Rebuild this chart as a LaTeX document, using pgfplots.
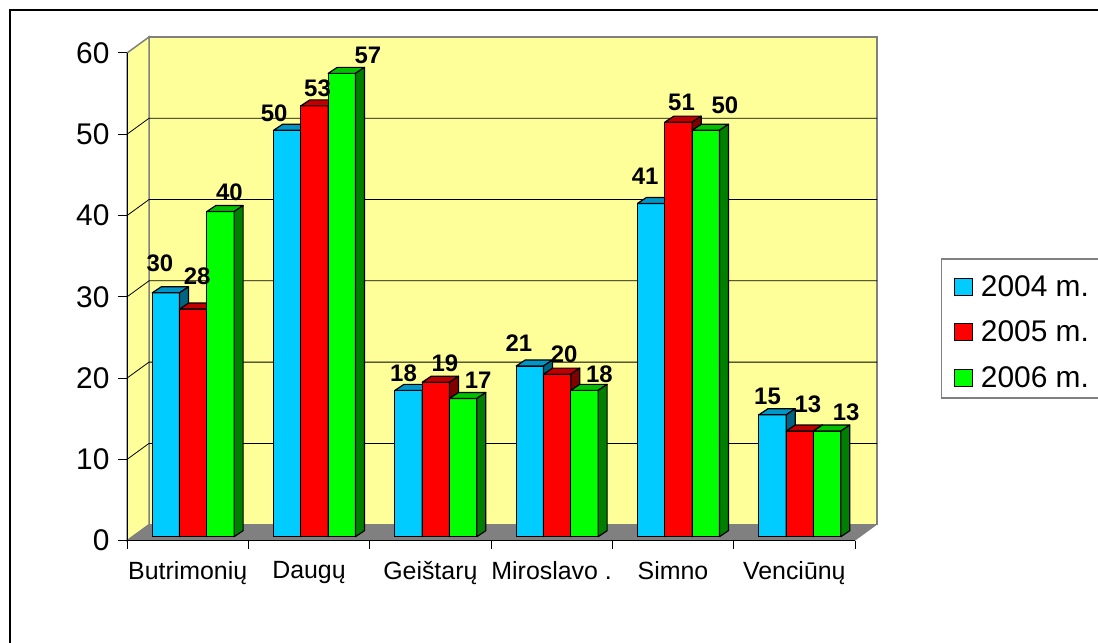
\documentclass[border=0pt]{standalone}
\usepackage{pgfplots}
\pgfplotsset{compat=1.18}
\usepackage{pgfplotstable}
\usepackage{fontspec}
\setmainfont{Liberation Sans}
\definecolor{wallc}{RGB}{255,255,153}
\definecolor{floorc}{RGB}{128,128,128}
\definecolor{edgec}{RGB}{128,128,128}
\definecolor{bfront}{RGB}{0,204,255}
\definecolor{btop}{RGB}{0,150,200}
\definecolor{bside}{RGB}{0,100,130}
\definecolor{rfront}{RGB}{255,0,0}
\definecolor{rtop}{RGB}{192,0,0}
\definecolor{rside}{RGB}{128,0,0}
\definecolor{gfront}{RGB}{0,255,0}
\definecolor{gtop}{RGB}{0,192,0}
\definecolor{gside}{RGB}{0,128,0}
\pgfplotsset{/pgf/number format/assume math mode=true}

% x = category position, y = value, lx/ly = label offset (bp)
\pgfplotstableread{
x y lx ly
0.5 30 -6 21
1.5 50 -13 9
2.5 18 -5 9
3.5 21 -11 14
4.5 41 -6 19
5.5 15 -5 10
}\dataA
\pgfplotstableread{
x y lx ly
0.5 28 4 25
1.5 53 3 9
2.5 19 9 11
3.5 20 7 12
4.5 51 3 12
5.5 13 8 19
}\dataB
\pgfplotstableread{
x y lx ly
0.5 40 9 11
1.5 57 26 10
2.5 17 15 10
3.5 18 15 8
4.5 50 19 17
5.5 13 19 11
}\dataC

% 3D faces of the bars: #1 table, #2 bar shift, #3 top colour, #4 side colour
\newcommand\barfaces[4]{%
  \pgfplotsinvokeforeach{0,...,5}{%
    \pgfplotstablegetelem{##1}{y}\of#1%
    \let\yv\pgfplotsretval
    \pgfmathsetmacro\xa{##1+0.5+(#2)-0.1125}%
    \pgfmathsetmacro\xb{##1+0.5+(#2)+0.1125}%
    \edef\tmp{%
      \noexpand\filldraw[fill=#3, draw=black, line width=1.2bp, line join=round, shift={(5.5bp,4bp)}]
        (axis cs:\xa,\yv) -- (axis cs:\xb,\yv) -- ([shift={(9bp,6bp)}]axis cs:\xb,\yv) -- ([shift={(9bp,6bp)}]axis cs:\xa,\yv) -- cycle;
      \noexpand\filldraw[fill=#4, draw=black, line width=1.2bp, line join=round, shift={(5.5bp,4bp)}]
        (axis cs:\xb,0) -- (axis cs:\xb,\yv) -- ([shift={(9bp,6bp)}]axis cs:\xb,\yv) -- ([shift={(9bp,6bp)}]axis cs:\xb,0) -- cycle;
    }\tmp
  }%
}

\newcommand\lblfont{\fontsize{24}{24}\selectfont\bfseries}
\pgfplotsset{
  barlabels/.style={
    nodes near coords,
    visualization depends on={\thisrow{lx} \as \lx},
    visualization depends on={\thisrow{ly} \as \ly},
    every node near coord/.append style={font=\lblfont, anchor=base, text=black,
      xshift=#1bp+\lx*1bp, yshift=\ly*1bp},
  },
}

\begin{document}
\begin{tikzpicture}[x=1bp,y=1bp]
\useasboundingbox (0,0) rectangle (1098,643);
\draw[line width=2bp] (9.5,-10) -- (9.5,633) -- (1110,633);
\begin{axis}[
  at={(127bp,102.3bp)}, anchor=south west,
  scale only axis, width=728bp, height=487.7bp,
  xmin=0, xmax=6, ymin=0, ymax=60,
  clip=false, axis on top,
  axis x line*=bottom, axis y line*=left,
  axis line style={-, black, line width=1bp},
  ytick={0,10,...,60},
  xtick={0.5,1.5,...,5.5},
  xticklabels={Butrimonių, Daugų, Geištarų, Miroslavo ., Simno, Venciūnų},
  minor xtick={0,1,...,6},
  tick align=outside,
  major tick length=9bp, minor tick length=8bp,
  tick style={black, line width=1bp},
  major x tick style={draw=none},
  yticklabel style={font=\fontsize{30}{30}\selectfont, xshift=-5bp},
  xticklabel style={font=\fontsize{25}{25}\selectfont, yshift=-8bp},
  legend style={at={(1.1315,0.552)}, anchor=north west, draw=none, fill=none,
    font=\fontsize{30}{30}\selectfont, row sep=19bp,
    /tikz/every odd column/.append style={column sep=6bp}},
  legend cell align=left,
]
% walls and floor
\filldraw[fill=wallc, draw=edgec, line width=1.5bp] ([shift={(22bp,16bp)}]axis cs:0,0) rectangle ([shift={(22bp,16bp)}]axis cs:6,60);
\filldraw[fill=wallc, draw=edgec, line width=1.5bp] (axis cs:0,0) -- (axis cs:0,60) -- ([shift={(22bp,16bp)}]axis cs:0,60) -- ([shift={(22bp,16bp)}]axis cs:0,0) -- cycle;
\fill[floorc] (axis cs:0,0) -- (axis cs:6,0) -- ([shift={(22bp,16bp)}]axis cs:6,0) -- ([shift={(22bp,16bp)}]axis cs:0,0) -- cycle;
\pgfplotsinvokeforeach{10,20,30,40,50}{
  \draw[black, line width=0.8bp] (axis cs:0,#1) -- ([shift={(22bp,16bp)}]axis cs:0,#1) -- ([shift={(22bp,16bp)}]axis cs:6,#1);
}
% 2004
\addplot[ybar, bar width=0.225, bar shift=-0.225, fill=bfront, draw=black, line width=1.2bp,
  xshift=5.5bp, yshift=4bp, forget plot, barlabels=-27.3]
  table[x=x,y=y] {\dataA};
\barfaces{\dataA}{-0.225}{btop}{bside}
% 2005
\addplot[ybar, bar width=0.225, bar shift=0, fill=rfront, draw=black, line width=1.2bp,
  xshift=5.5bp, yshift=4bp, forget plot, barlabels=0]
  table[x=x,y=y] {\dataB};
\barfaces{\dataB}{0}{rtop}{rside}
% 2006
\addplot[ybar, bar width=0.225, bar shift=0.225, fill=gfront, draw=black, line width=1.2bp,
  xshift=5.5bp, yshift=4bp, forget plot, barlabels=27.3]
  table[x=x,y=y] {\dataC};
\barfaces{\dataC}{0.225}{gtop}{gside}

\addlegendimage{legend image code/.code={\filldraw[fill=bfront,draw=black,line width=1bp] (0bp,-8.5bp) rectangle (18bp,8.5bp);}}
\addlegendentry{2004 m.}
\addlegendimage{legend image code/.code={\filldraw[fill=rfront,draw=black,line width=1bp] (0bp,-8.5bp) rectangle (18bp,8.5bp);}}
\addlegendentry{2005 m.}
\addlegendimage{legend image code/.code={\filldraw[fill=gfront,draw=black,line width=1bp] (0bp,-8.5bp) rectangle (18bp,8.5bp);}}
\addlegendentry{2006 m.}
\end{axis}
\draw[edgec, line width=1.5bp] (1110,384) -- (941.7,384) -- (941.7,245) -- (1110,245);
\end{tikzpicture}
\end{document}
